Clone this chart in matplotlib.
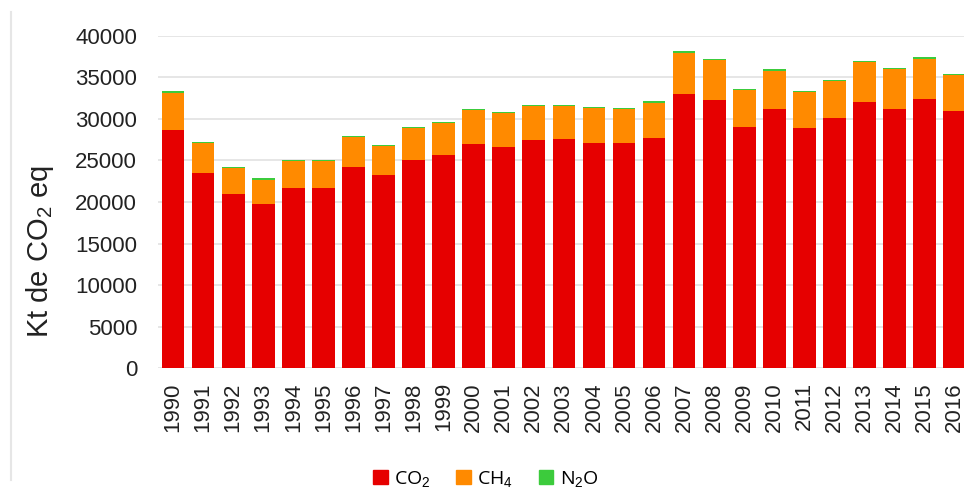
import matplotlib
matplotlib.use("Agg")
import matplotlib.pyplot as plt
import numpy as np
from matplotlib.lines import Line2D
from matplotlib.patches import Patch

plt.rcParams["font.family"] = ["Liberation Sans", "DejaVu Sans"]
plt.rcParams["mathtext.fontset"] = "custom"
plt.rcParams["mathtext.rm"] = "Liberation Sans"
plt.rcParams["mathtext.it"] = "Liberation Sans"

# Emissions by gas, kt CO2 eq
years = [str(y) for y in range(1990, 2017)]
co2 = [28700, 23500, 21000, 19700, 21650, 21650, 24150, 23300, 25000, 25650,
       27000, 26600, 27400, 27600, 27150, 27150, 27750, 33000, 32250, 29000,
       31200, 28850, 30100, 32050, 31200, 32400, 30950]
ch4 = [4400, 3600, 3050, 2950, 3300, 3300, 3650, 3450, 3850, 3900,
       4050, 4050, 4200, 4000, 4100, 4000, 4200, 4900, 4800, 4450,
       4600, 4400, 4400, 4750, 4750, 4750, 4300]
n2o = [200, 150, 150, 230, 150, 150, 150, 150, 130, 120,
       150, 150, 120, 120, 120, 120, 220, 200, 150, 170,
       160, 150, 200, 150, 150, 280, 150]
y_ticks = [0, 5000, 10000, 15000, 20000, 25000, 30000, 35000, 40000]

RED = "#E60000"
ORANGE = "#FF8A00"
GREEN = "#3CCB3C"

W, H = 964, 493
fig = plt.figure(figsize=(W / 100, H / 100), dpi=100)
ax = fig.add_axes([158 / W, 1 - 368.3 / H, (W - 158) / W, (368.3 - 35.7) / H])

x = np.arange(len(years))
co2 = np.array(co2)
ch4 = np.array(ch4)
n2o = np.array(n2o)
bw = 0.755
ax.bar(x, co2, width=bw, color=RED, zorder=3)
ax.bar(x, ch4, width=bw, bottom=co2, color=ORANGE, zorder=3)
ax.bar(x, n2o, width=bw, bottom=co2 + ch4, color=GREEN, zorder=3)

ax.set_xlim(-0.5, 26.31)
ax.set_ylim(0, 40000)
ax.set_yticks(y_ticks)
ax.set_yticklabels([str(v) for v in y_ticks], fontsize=16, color="#222222")
ax.set_xticks(x)
ax.set_xticklabels(years, rotation=90, fontsize=16, color="#222222")
ax.tick_params(axis="y", length=0, pad=15)
ax.tick_params(axis="x", length=0, pad=10)
ax.grid(axis="y", color="#E2E2E2", linewidth=1.2, zorder=0)
for s in ax.spines.values():
    s.set_visible(False)

fig.text(40 / W, 1 - 252 / H, r"Kt de CO$_2$ eq", rotation=90,
         fontsize=21, ha="center", va="center", color="#222222")

handles = [Patch(color=RED, label=r"CO$_2$"),
           Patch(color=ORANGE, label=r"CH$_4$"),
           Patch(color=GREEN, label=r"N$_2$O")]
fig.legend(handles=handles, loc="center", bbox_to_anchor=(486 / W, 1 - 479 / H),
           ncol=3, frameon=False, handlelength=0.75, handleheight=0.75,
           handletextpad=0.35, columnspacing=1.3,
           prop={"family": ["Open Sans", "DejaVu Sans"], "size": 14})

# thin border line on the left of the original panel
fig.add_artist(Line2D([11 / W, 11 / W], [1 - 480 / H, 1 - 12 / H],
                      color="#E6E6E6", linewidth=1.5))

fig.savefig("out.png", dpi=100)
